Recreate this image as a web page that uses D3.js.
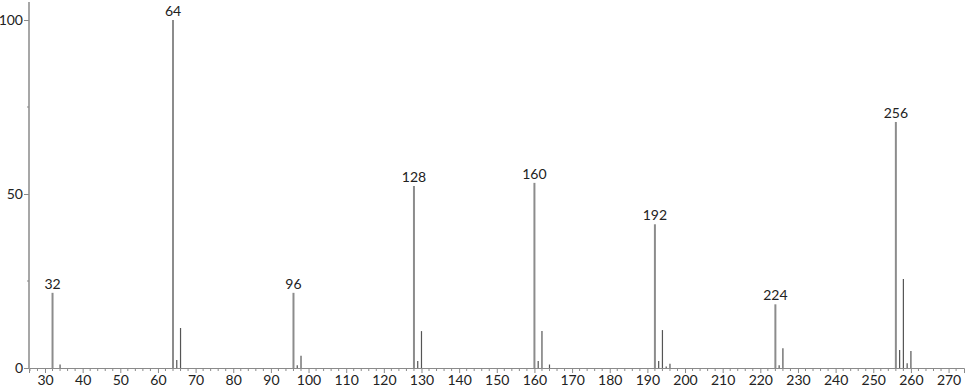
<!DOCTYPE html>
<html>
<head>
<meta charset="utf-8">
<script src="https://cdn.jsdelivr.net/npm/d3@7"></script>
<style>
  body { margin: 0; background: #fff; }
  svg text { font-family: Lato, 'Noto Sans', sans-serif; fill: #222; }
</style>
</head>
<body>
<div id="chart"></div>
<script>
// m/z of each peak and relative intensity (%)
const mz = [32, 34, 64, 65, 66, 96, 97, 98, 128, 129, 130, 160, 161, 162, 164,
  192, 193, 194, 195, 196, 224, 225, 226, 256, 257, 258, 259, 260];
const intensity = [21.6, 1.0, 100, 2.3, 11.5, 21.6, 0.8, 3.5, 52.3, 2.0, 10.6, 53.2, 2.0, 10.6, 1.0,
  41.3, 2.0, 10.9, 0.4, 1.2, 18.3, 0.8, 5.7, 70.7, 5.2, 25.6, 1.4, 4.9];
const labelled = [32, 64, 96, 128, 160, 192, 224, 256];
const yTicks = [0, 50, 100];
const yMinor = [25, 75];

const size = { width: 966, height: 389 };
const margin = { left: 29, right: 2, top: 2, bottom: 21 };

const svg = d3.select('#chart')
  .append('svg')
  .attr('width', size.width)
  .attr('height', size.height);

const x = d3.scaleLinear()
  .domain([25.75, 274.1])
  .range([margin.left, size.width - margin.right]);

const y = d3.scaleLinear()
  .domain([0, 100])
  .range([size.height - margin.bottom, 20]);

const axisColor = '#8a8a8a';
const peaks = mz.map((m, i) => ({ m, v: intensity[i] }));

// x axis: major ticks every 10, minor every 2
const xAxis = svg.append('g')
  .attr('transform', `translate(0, ${y(0)})`)
  .call(d3.axisBottom(x).tickValues(d3.range(30, 271, 10)).tickSize(5).tickPadding(2));
xAxis.select('.domain').attr('stroke', axisColor);
xAxis.selectAll('.tick line').attr('stroke', axisColor);
xAxis.selectAll('.tick text').style('font-size', '14px').attr('fill', '#222');

svg.append('g')
  .selectAll('line')
  .data(d3.range(26, 274, 2).filter((d) => d % 10 !== 0))
  .join('line')
  .attr('x1', (d) => x(d))
  .attr('x2', (d) => x(d))
  .attr('y1', y(0))
  .attr('y2', y(0) + 3)
  .attr('stroke', axisColor);

// y axis
svg.append('line')
  .attr('x1', margin.left)
  .attr('x2', margin.left)
  .attr('y1', margin.top)
  .attr('y2', y(0))
  .attr('stroke', axisColor)
  .attr('stroke-width', 1.5);

const yAxis = svg.append('g')
  .attr('transform', `translate(${margin.left}, 0)`)
  .call(d3.axisLeft(y).tickValues(yTicks).tickSize(5).tickPadding(1));
yAxis.select('.domain').remove();
yAxis.selectAll('.tick line').attr('stroke', axisColor);
yAxis.selectAll('.tick text').style('font-size', '14px').attr('fill', '#222');

svg.append('g')
  .selectAll('line')
  .data(yMinor)
  .join('line')
  .attr('x1', margin.left - 2)
  .attr('x2', margin.left)
  .attr('y1', (d) => y(d))
  .attr('y2', (d) => y(d))
  .attr('stroke', axisColor);

// sticks
svg.append('g')
  .selectAll('line')
  .data(peaks)
  .join('line')
  .attr('x1', (d) => x(d.m))
  .attr('x2', (d) => x(d.m))
  .attr('y1', y(0))
  .attr('y2', (d) => y(d.v))
  .attr('stroke', (d) => (labelled.includes(d.m) ? '#8c8c8c' : '#555'))
  .attr('stroke-width', (d) => (labelled.includes(d.m) ? 2 : 1.2));

// peak labels
svg.append('g')
  .selectAll('text')
  .data(peaks.filter((d) => labelled.includes(d.m)))
  .join('text')
  .attr('x', (d) => x(d.m))
  .attr('y', (d) => y(d.v) - 4)
  .attr('text-anchor', 'middle')
  .style('font-size', '14px')
  .text((d) => d.m);
</script>
</body>
</html>
